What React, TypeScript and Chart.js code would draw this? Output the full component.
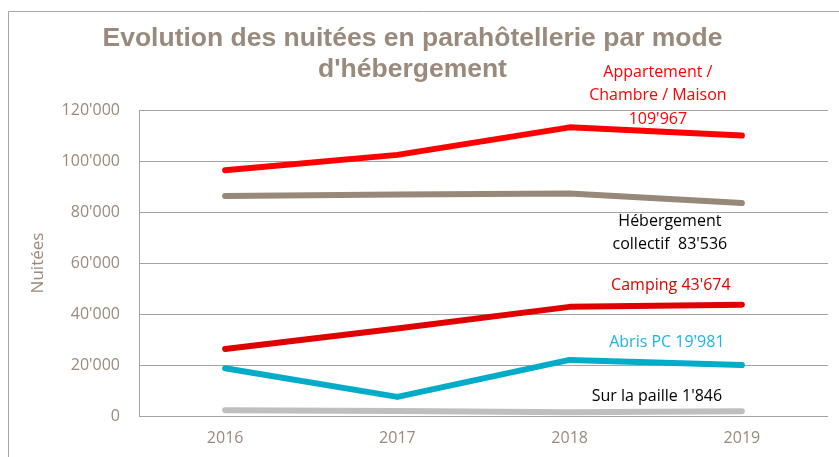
import React, { useEffect, useRef } from "react";
import { Chart, registerables } from "chart.js";

Chart.register(...registerables);

const years = ["2016", "2017", "2018", "2019"];
const appartement = [96400, 102400, 113200, 109967];
const collectif = [86300, 86900, 87300, 83536];
const camping = [26300, 34300, 42800, 43674];
const abrisPC = [18700, 7500, 22000, 19981];
const paille = [2300, 2000, 1500, 1846];

const titleLines = ["Evolution des nuitées en parahôtellerie par mode", "d'hébergement"];
const yTitle = "Nuitées";

const fmt = (v: number) => String(Math.round(v)).replace(/\B(?=(\d{3})+(?!\d))/g, "'");

const BROWN = "#998a7d";
const GRID = "#a3a3a3";

// label text lines for each series (value appended from the data)
const labelDefs = [
  { data: appartement, lines: ["Appartement /", "Chambre / Maison", fmt(appartement[3])], color: "#ff0000", dx: -84, dy: -59, lh: 23.5 },
  { data: collectif, lines: ["Hébergement", "collectif  " + fmt(collectif[3])], color: "#000000", dx: -72, dy: 23, lh: 23 },
  { data: camping, lines: ["Camping " + fmt(camping[3])], color: "#e00000", dx: -71, dy: -15, lh: 23 },
  { data: abrisPC, lines: ["Abris PC " + fmt(abrisPC[3])], color: "#1bb4e8", dx: -75, dy: -18, lh: 23 },
  { data: paille, lines: ["Sur la paille " + fmt(paille[3])], color: "#000000", dx: -85, dy: -10, lh: 23 },
];

const framePlugin = {
  id: "frame",
  beforeDraw(chart: any) {
    const ctx = chart.ctx;
    ctx.save();
    ctx.fillStyle = "#ffffff";
    ctx.fillRect(0, 0, chart.width, chart.height);
    ctx.strokeStyle = "#a6a6a6";
    ctx.lineWidth = 1;
    ctx.beginPath();
    ctx.moveTo(8.5, chart.height);
    ctx.lineTo(8.5, 11.5);
    ctx.lineTo(chart.width, 11.5);
    ctx.stroke();
    // title
    ctx.fillStyle = BROWN;
    ctx.font = "bold 26.5px 'Liberation Sans', Arial, sans-serif";
    ctx.textAlign = "center";
    ctx.textBaseline = "alphabetic";
    ctx.fillText(titleLines[0], 412.5, 46);
    ctx.fillText(titleLines[1], 412.5, 77);
    ctx.restore();
  },
};

const labelPlugin = {
  id: "endLabels",
  afterDatasetsDraw(chart: any) {
    const ctx = chart.ctx;
    const xs = chart.scales.x;
    const ys = chart.scales.y;
    ctx.save();
    ctx.font = "16px 'Open Sans', sans-serif";
    ctx.textAlign = "center";
    ctx.textBaseline = "alphabetic";
    labelDefs.forEach((d) => {
      const last = d.data.length - 1;
      const x = xs.getPixelForValue(last) + d.dx;
      const y0 = ys.getPixelForValue(d.data[last]) + d.dy;
      ctx.fillStyle = d.color;
      d.lines.forEach((t, i) => ctx.fillText(t, x, y0 + i * d.lh));
    });
    ctx.restore();
  },
};

export default function App() {
  const ref = useRef<HTMLCanvasElement | null>(null);
  useEffect(() => {
    if (!ref.current) return;
    const mk = (label: string, data: number[], color: string) => ({
      label,
      data,
      borderColor: color,
      backgroundColor: color,
      borderWidth: 6,
      pointRadius: 0,
      tension: 0,
      borderCapStyle: "round" as const,
      borderJoinStyle: "round" as const,
    });
    const chart = new Chart(ref.current, {
      type: "line",
      data: {
        labels: years,
        datasets: [
          mk("Appartement / Chambre / Maison", appartement, "#ff0000"),
          mk("Hébergement collectif", collectif, "#978879"),
          mk("Camping", camping, "#e00000"),
          mk("Abris PC", abrisPC, "#00acc8"),
          mk("Sur la paille", paille, "#bfbfbf"),
        ],
      },
      options: {
        animation: false,
        responsive: true,
        maintainAspectRatio: false,
        layout: { padding: { top: 110, right: 11, left: 0, bottom: 0 } },
        plugins: { legend: { display: false }, title: { display: false }, tooltip: { enabled: false } },
        scales: {
          x: {
            offset: true,
            grid: { display: false, drawTicks: false },
            border: { display: false },
            ticks: { color: BROWN, font: { family: "'Open Sans', sans-serif", size: 16 }, padding: 13 },
            afterFit: (s: any) => { s.height = 41; },
          },
          y: {
            min: 0,
            max: 120000,
            ticks: {
              stepSize: 20000,
              color: BROWN,
              font: { family: "'Open Sans', sans-serif", size: 16 },
              padding: 19,
              callback: (v: any) => fmt(Number(v)),
            },
            grid: { color: GRID, lineWidth: 1, drawTicks: false },
            border: { display: true, color: GRID, width: 1 },
            title: {
              display: true,
              text: yTitle,
              color: BROWN,
              font: { family: "'Open Sans', sans-serif", size: 17 },
              padding: { top: 28, bottom: 0 },
            },
            afterFit: (s: any) => { s.width = 139; },
          },
        },
      },
      plugins: [framePlugin, labelPlugin],
    });
    return () => chart.destroy();
  }, []);
  return (
    <div style={{ position: "fixed", left: 0, top: 0, width: 839, height: 457 }}>
      <canvas ref={ref} />
    </div>
  );
}
